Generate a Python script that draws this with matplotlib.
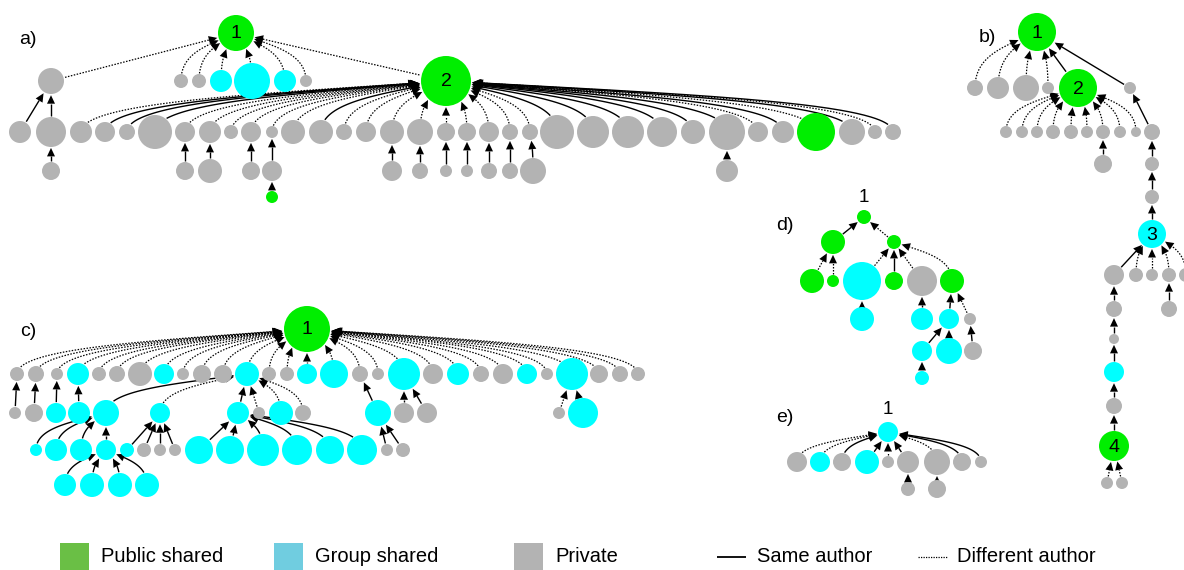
import numpy as np
import matplotlib.pyplot as plt
from matplotlib.patches import Circle, Polygon, Rectangle

plt.rcParams["font.family"] = ["Liberation Sans", "DejaVu Sans"]

W, H = 1184, 570
NODE_COLORS = {"p": "#00ee00", "g": "#00ffff", "x": "#b3b3b3"}
LEGEND_COLORS = {"p": "#6abf45", "g": "#70cde0", "x": "#b3b3b3"}

# ---------------------------------------------------------------- data
# kind: p = public shared, g = group shared, x = private
# same: 1 = same author as parent (solid), 0 = different author (dotted)

# panel a
a_parent = [-1, 0, 0, 0, 0, 0, 0, 0, 0,
            1, 1] + [8] * 32 + [10, 15, 16, 18, 19, 24, 25, 26, 27, 28, 29, 30, 36, 47]
a_size = [18, 13, 7, 7, 11, 18, 11, 6, 25,
          11, 15, 11, 10, 8, 17, 10, 11, 7, 10, 6, 12, 12, 8, 10, 12, 13, 9, 9, 10,
          8, 8, 17, 16, 16, 15, 12, 18, 10, 11, 19, 13, 7, 8,
          9, 9, 12, 9, 10, 10, 8, 6, 6, 8, 8, 13, 11, 6]
a_kind = list("pxxxgggxp") + ["x"] * 30 + ["p", "x", "x", "x"] + ["x"] * 13 + ["p"]
a_same = [0, 0, 0, 0, 0, 0, 0, 0, 0,
          1, 1, 0, 1, 1, 1, 0, 0, 0, 0, 0, 0, 1, 0, 0, 0, 0, 0, 0, 0,
          0, 0, 1, 1, 1, 1, 1, 1, 0, 1, 0, 1, 0, 1] + [1] * 14
a_names = {0: "1", 8: "2"}

# panel b
b_parent = [-1, 0, 0, 0, 0, 0, 0] + [5] * 9 + [6, 13, 16, 18, 19, 20, 20, 20, 20, 20,
                                                21, 24, 26, 28, 29, 30, 31, 31]
b_size = [19, 8, 11, 13, 6, 19, 6, 6, 6, 6, 7, 7, 6, 7, 6, 5, 8, 9, 7, 7, 14,
          10, 7, 6, 7, 7, 8, 8, 5, 10, 8, 15, 6, 6]
b_kind = list("pxxxxpx") + ["x"] * 13 + ["g"] + ["x"] * 8 + ["g", "x", "p", "x", "x"]
b_same = [0, 0, 0, 0, 0, 1, 1] + [0] * 9 + [1, 1, 1, 1, 1, 1, 0, 0, 0, 0,
                                          1, 1, 1, 1, 1, 1, 0, 0]
b_names = {0: "1", 5: "2", 20: "3", 31: "4"}

# panel c
c_parent = [-1] + [0] * 29 + [1, 2, 3, 4, 12, 12, 12, 12, 12, 12, 17, 19, 19, 26, 26,
                              34, 34, 34, 34, 35, 35, 35, 35, 36, 36, 36, 36, 36, 36, 40, 40,
                              48, 48, 48, 48]
c_size = [23, 7, 8, 6, 11, 7, 8, 12, 10, 6, 9, 9, 12, 7, 7, 10, 14, 8, 6, 16, 10, 11, 8,
          10, 10, 6, 16, 9, 8, 7,
          6, 9, 10, 11, 13, 10, 11, 6, 12, 8, 13, 10, 10, 6, 15,
          6, 11, 11, 10, 7, 7, 6, 6, 14, 14, 16, 15, 14, 15, 6, 7,
          11, 12, 12, 12]
c_kind = (["p"] + list("xxxgxxxgxxxgxxggxxgxgxxgxgxxx")
          + list("xxgggggxgxgxxxg") + list("ggggg") + list("xxx") + list("gggggg")
          + list("xx") + list("gggg"))
c_same = ([0] * 15 + [1] + [0] * 14
          + [1, 1, 1, 1, 1, 0, 1, 0, 0, 0, 1, 1, 1, 0, 1]
          + [1] * 16 + [1] * 4)
c_names = {0: "1"}

# panel d
d_parent = [-1, 0, 0, 1, 1, 2, 2, 2, 2, 5, 7, 8, 8, 11, 11, 12, 13]
d_size = [7, 12, 7, 12, 6, 19, 9, 15, 12, 12, 11, 10, 6, 10, 13, 9, 7]
d_kind = list("ppppp" "gpxp" "ggg" "x" "ggxg")
d_same = [0, 1, 0, 0, 0, 0, 1, 0, 0, 1, 1, 1, 0, 1, 1, 1, 1]
d_names = {0: "1"}

# panel e
e_parent = [-1, 0, 0, 0, 0, 0, 0, 0, 0, 0, 6, 7]
e_size = [10, 10, 10, 9, 12, 6, 11, 13, 9, 6, 7, 9]
e_kind = list("gxgxgxxxxxxx")
e_same = [0, 0, 0, 1, 1, 0, 1, 0, 1, 1, 1, 1]
e_names = {0: "1"}

legend_labels = ["Public shared", "Group shared", "Private", "Same author", "Different author"]

# ---------------------------------------------------------------- layout (pixel space)
a_x = [236, 51, 181, 199, 221, 252, 285, 306, 446,
       20, 51, 81, 105, 127, 155, 185, 210, 231, 251, 272, 293, 321, 344, 366, 392, 420,
       446, 467, 489, 510, 530, 557, 593, 628, 662, 693, 727, 758, 783, 816, 852, 875, 893,
       51, 185, 210, 251, 272, 392, 420, 446, 467, 489, 510, 533, 727, 272]
a_row = [0] + [1] * 8 + [2] * 34 + [3] * 13 + [4]
a_row_y = [33, 81, 132, 171, 197]
a_straight = [1, 8, 9, 10]

b_x = [1037, 975, 998, 1026, 1048, 1078, 1130,
       1006, 1022, 1037, 1053, 1071, 1087, 1103, 1120, 1136, 1152,
       1103, 1152, 1152, 1152, 1114, 1136, 1152, 1169, 1186,
       1114, 1169, 1114, 1114, 1114, 1114, 1107, 1122]
b_row = [0, 1, 1, 1, 1, 1, 1] + [2] * 10 + [3, 3, 4, 5] + [6] * 5 + [7, 7, 8, 9, 10, 11, 12, 12]
b_row_y = [32, 88, 132, 164, 197, 234, 275, 309, 339, 372, 406, 446, 483]
b_curved = [1, 2, 3, 4] + list(range(7, 16)) + [22, 23, 24, 25]

c_x = [307, 17, 36, 57, 78, 99, 117, 140, 164, 183, 202, 223, 247, 269, 287, 307, 334,
       360, 378, 404, 433, 458, 481, 503, 527, 547, 572, 599, 620, 638,
       15, 34, 56, 79, 106, 160, 238, 259, 281, 303, 378, 404, 427, 559, 583,
       36, 56, 81, 106, 127, 144, 160, 175, 199, 230, 263, 297, 330, 362, 387, 403,
       65, 92, 120, 147]
c_row = [0] + [1] * 29 + [2] * 15 + [3] * 16 + [4] * 4
c_row_y = [329, 374, 413, 450, 485]
c_curved = list(range(1, 30)) + [34, 35, 38, 39, 45, 46, 47, 55, 56, 57, 58, 61, 62, 63, 64]

d_x = [864, 833, 894, 812, 833, 862, 894, 922, 952, 862, 922, 949, 970, 922, 949, 973, 922]
d_row = [0, 1, 1, 2, 2, 2, 2, 2, 2, 3, 3, 3, 3, 4, 4, 4, 5]
d_row_y = [217, 242, 281, 319, 351, 378]
d_curved = [8]

e_x = [888, 797, 820, 842, 867, 888, 908, 937, 962, 981, 908, 937]
e_row = [0] + [1] * 9 + [2, 2]
e_row_y = [432, 462, 489]
e_curved = [1, 2, 3, 7, 8, 9]

PANELS = [
    dict(tag="a)", tag_xy=(28, 40), parent=a_parent, size=a_size, kind=a_kind, same=a_same,
         names=a_names, x=a_x, row=a_row, row_y=a_row_y,
         curved=[i for i in range(len(a_x)) if i not in a_straight], outside=False),
    dict(tag="b)", tag_xy=(987, 38), parent=b_parent, size=b_size, kind=b_kind, same=b_same,
         names=b_names, x=b_x, row=b_row, row_y=b_row_y, curved=b_curved, outside=False),
    dict(tag="c)", tag_xy=(28, 332), parent=c_parent, size=c_size, kind=c_kind, same=c_same,
         names=c_names, x=c_x, row=c_row, row_y=c_row_y, curved=c_curved, outside=False),
    dict(tag="d)", tag_xy=(785, 226), parent=d_parent, size=d_size, kind=d_kind, same=d_same,
         names=d_names, x=d_x, row=d_row, row_y=d_row_y, curved=d_curved, outside=True),
    dict(tag="e)", tag_xy=(785, 417), parent=e_parent, size=e_size, kind=e_kind, same=e_same,
         names=e_names, x=e_x, row=e_row, row_y=e_row_y, curved=e_curved, outside=True),
]

HEAD_LEN = 8.5
HEAD_HW = 4.0


def bezier(p0, p1, p2, p3, n=150):
    t = np.linspace(0, 1, n)[:, None]
    return (1 - t) ** 3 * p0 + 3 * (1 - t) ** 2 * t * p1 + 3 * (1 - t) * t ** 2 * p2 + t ** 3 * p3


def draw_edge(ax, c, rc, p, rp, solid, curved):
    c = np.asarray(c, float)
    p = np.asarray(p, float)
    if curved:
        dx, dy = c[0] - p[0], c[1] - p[1]
        pts = bezier(c, c + [0, -0.6 * dy], p + [0.5 * dx, 0.25 * dy], p)
    else:
        pts = np.linspace(c, p, 80)
    keep = (np.hypot(*(pts - c).T) > rc + 0.5) & (np.hypot(*(pts - p).T) > rp + 0.8)
    pts = pts[keep]
    if len(pts) < 2:
        return
    tip = pts[-1]
    far = np.where(np.hypot(*(pts - tip).T) >= HEAD_LEN)[0]
    bi = far[-1] if len(far) else 0
    d = tip - pts[bi]
    d = d / np.hypot(*d)
    base = tip - d * HEAD_LEN
    line = np.vstack([pts[:bi + 1], base])
    ax.plot(line[:, 0], line[:, 1], color="black",
            lw=1.0 if solid else 0.9,
            linestyle="-" if solid else (0, (1.2, 1.2)),
            solid_capstyle="butt", zorder=1)
    perp = np.array([-d[1], d[0]])
    ax.add_patch(Polygon([tip, base + perp * HEAD_HW, base - perp * HEAD_HW],
                         closed=True, fc="black", ec="none", zorder=1.5))


fig = plt.figure(figsize=(W / 100, H / 100), dpi=100)
ax = fig.add_axes([0, 0, 1, 1])
ax.set_xlim(0, W)
ax.set_ylim(H, 0)
ax.axis("off")

for pn in PANELS:
    xs = pn["x"]
    ys = [pn["row_y"][r] for r in pn["row"]]
    for i, par in enumerate(pn["parent"]):
        if par < 0:
            continue
        draw_edge(ax, (xs[i], ys[i]), pn["size"][i], (xs[par], ys[par]), pn["size"][par],
                  pn["same"][i] == 1, i in pn["curved"])
    for i in range(len(xs)):
        ax.add_patch(Circle((xs[i], ys[i]), pn["size"][i], fc=NODE_COLORS[pn["kind"][i]],
                            ec="none", zorder=2))
    for i, name in pn["names"].items():
        if pn["outside"]:
            ax.text(xs[i], ys[i] - pn["size"][i] - 12, name, ha="center", va="center",
                    fontsize=13.5, zorder=3)
        else:
            ax.text(xs[i], ys[i] + 1, name, ha="center", va="center", fontsize=14, zorder=3)
    ax.text(pn["tag_xy"][0], pn["tag_xy"][1], pn["tag"], ha="center", va="center", fontsize=14)

# legend
leg_y = 557
for kind, x0, label in zip(["p", "g", "x"], [60, 274, 514], legend_labels[:3]):
    ax.add_patch(Rectangle((x0, leg_y - 14), 29, 28, fc=LEGEND_COLORS[kind], ec="none"))
    ax.text(x0 + 41, leg_y, label, ha="left", va="center", fontsize=14.5)
ax.plot([717, 746], [leg_y, leg_y], color="black", lw=1.3, solid_capstyle="butt")
ax.text(757, leg_y, legend_labels[3], ha="left", va="center", fontsize=14.5)
ax.plot([918, 947], [leg_y, leg_y], color="black", lw=0.9, linestyle=(0, (1, 1)))
ax.text(957, leg_y, legend_labels[4], ha="left", va="center", fontsize=14.5)

fig.savefig("out.png", dpi=100)
